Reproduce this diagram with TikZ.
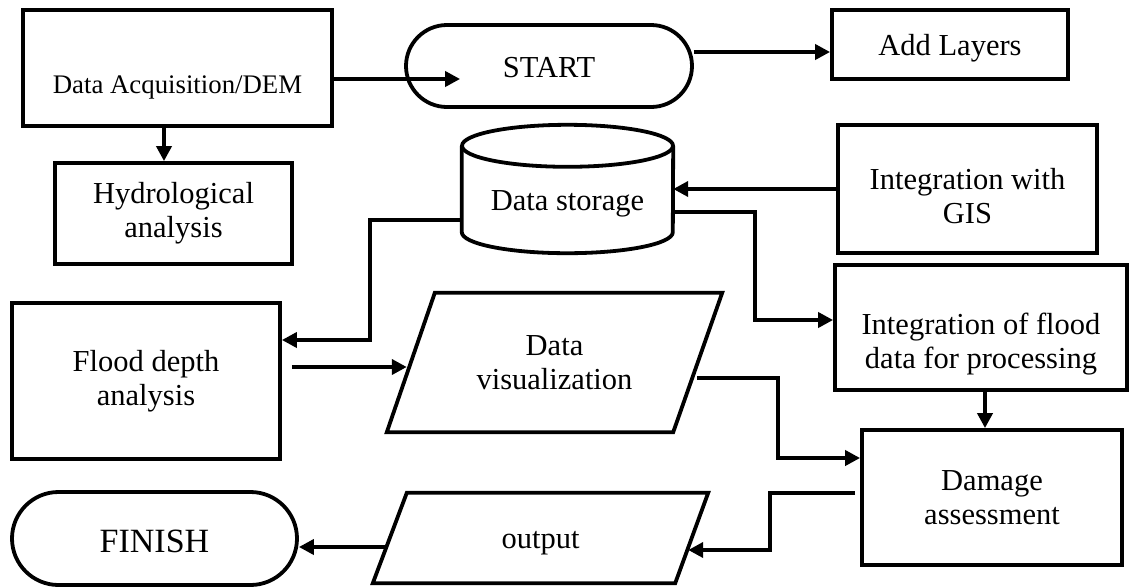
\documentclass[tikz,border=0pt]{standalone}
\usepackage{fontspec}
\setmainfont{Liberation Serif}
\usetikzlibrary{shapes.misc,arrows.meta,calc}
\begin{document}
\begin{tikzpicture}[x=1pt,y=1pt,
 ln/.style={line width=3.8pt},
 arr/.style={ln,-{Triangle[length=15pt,width=15pt]}},
 txt/.style={font=\fontsize{30.5}{34}\selectfont, align=center},
 box/.style={draw,ln,rectangle,inner sep=0pt,txt},
 term/.style={draw,ln,rounded rectangle,inner sep=0pt,txt}]
\useasboundingbox (0,0) rectangle (1132,-587);

% nodes
\node[box,minimum width=309pt,minimum height=116pt,
  label={[font=\fontsize{26.8}{30}\selectfont,text height=50pt,text depth=0pt,inner sep=0pt]center:Data Acquisition/DEM}] (da) at (177.5,-68) {};
\node[term,minimum width=286pt,minimum height=82pt,text height=22pt,text depth=0pt] (start) at (549,-66) {START};
\node[box,minimum width=236pt,minimum height=69pt,text height=21pt,text depth=0pt] (al) at (950,-44.5) {Add Layers};
\node[box,minimum width=237pt,minimum height=101pt] (hy) at (173.5,-213.5) {Hydrological\\analysis};

\node[minimum width=211pt,minimum height=128pt,inner sep=0pt,
  label={[txt,text height=42pt,text depth=0pt,inner sep=0pt]center:Data storage}] (ds) at (567.5,-189) {};
\draw[ln] ($(ds.north)+(0,-21)$) ellipse (105.5pt and 21pt);
\draw[ln] ($(ds.north west)+(0,-21)$) -- ($(ds.south west)+(0,21)$) arc (180:360:105.5pt and 21pt) -- ($(ds.north east)+(0,-21)$);

\node[box,minimum width=259pt,minimum height=128pt] (gis) at (967.5,-189) {\rule{0pt}{36pt}Integration with\\GIS};
\node[box,minimum width=292pt,minimum height=125pt,
  label={[txt,yshift=-17pt]center:Integration of flood\\data for processing}] (ifd) at (981,-327.5) {};
\node[box,minimum width=260pt,minimum height=135pt] (dam) at (992,-497.5) {Damage\\assessment};
\node[box,minimum width=268pt,minimum height=156pt] (fd) at (146,-381) {Flood depth\\analysis};

\node[txt,minimum width=335pt,minimum height=139pt,inner sep=0pt] (dv) at (554.5,-362.5) {Data\\visualization};
\draw[ln] (dv.south west) -- ($(dv.north west)+(48,0)$) -- (dv.north east) -- ($(dv.south east)+(-49,0)$) -- cycle;

\node[txt,minimum width=335pt,minimum height=90pt,inner sep=0pt,text height=20pt,text depth=0pt] (out) at (540.5,-538) {output};
\draw[ln] (out.south west) -- ($(out.north west)+(34,0)$) -- (out.north east) -- ($(out.south east)+(-33,0)$) -- cycle;

\node[term,minimum width=285pt,minimum height=93pt,font=\fontsize{34}{40}\selectfont,text height=27pt,text depth=0pt] (fin) at (154.5,-538.5) {FINISH};

% connectors
\draw[arr] ($(da.south)+(-13.5,0)$) -- ($(hy.north)+(-9.5,0)$);
\draw[arr] ($(da.east)+(0,-11)$) -- ($(start.west)+(56,-13)$);
\draw[arr] ($(start.east)+(0,14)$) -- ($(al.west)+(0,-7.5)$);
\draw[arr] (gis.west) -- (gis.west -| ds.east);
\draw[arr] ($(ds.east)+(0,-23)$) -- (755,-212) -- (755,-320) -- ($(ifd.west)+(0,7.5)$);
\draw[arr] ($(ds.west)+(0,-31)$) -- (370,-220) -- (370,-340) -- ($(fd.east)+(0,41)$);
\draw[arr] ($(fd.east)+(10,14)$) -- ($(dv.west)+(20,-4.5)$);
\draw[arr] ($(dv.east)+(-25,-15.5)$) -- (778,-378) -- (778,-458) -- ($(dam.west)+(0,39.5)$);
\draw[arr] ($(ifd.south)+(4,0)$) -- ($(dam.north)+(-7,0)$);
\draw[arr] ($(dam.west)+(-5,4.5)$) -- (770,-493) -- (770,-550) -- ($(out.east)+(-20,-12)$);
\draw[arr] ($(out.west)+(13,-9)$) -- ($(fin.east)+(0,-8.5)$);
\end{tikzpicture}
\end{document}
